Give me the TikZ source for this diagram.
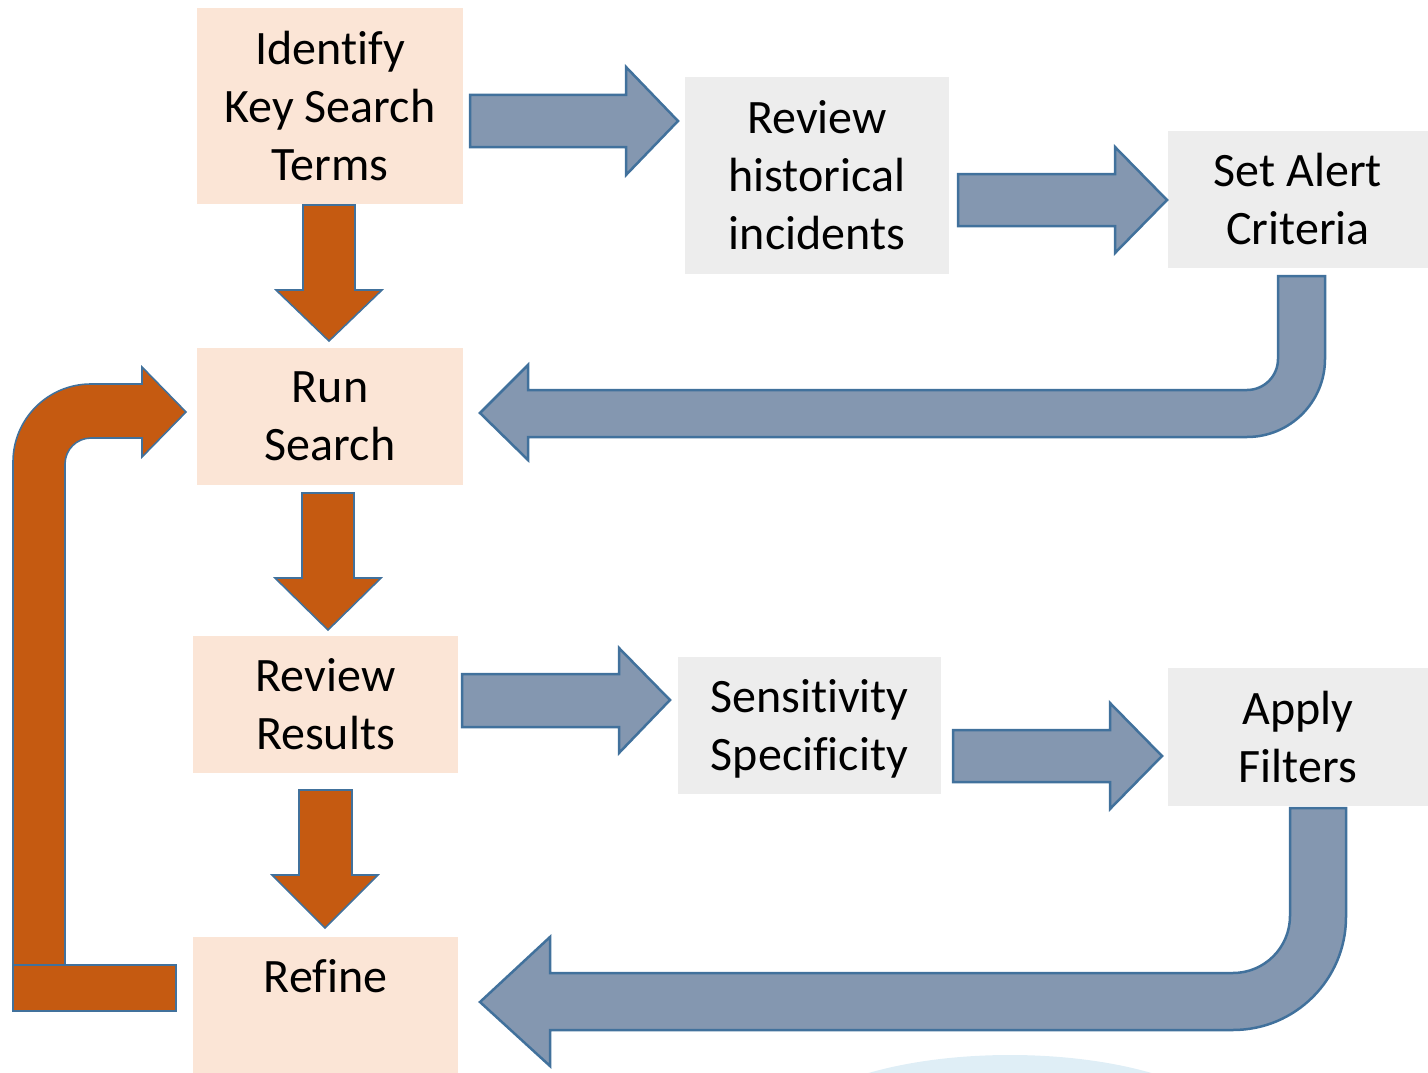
\documentclass[tikz,border=0pt]{standalone}
\usepackage{fontspec}
\setmainfont{Carlito}[RawFeature={-liga;-clig}]
\definecolor{boxorange}{HTML}{FBE5D6}
\definecolor{boxgrey}{HTML}{EDEDED}
\definecolor{arrowblue}{HTML}{8497B0}
\definecolor{edgeblue}{HTML}{41719C}
\definecolor{arroworange}{HTML}{C55A11}
\definecolor{skyblue}{HTML}{DFEEF6}
\tikzset{
  stepbox/.style={inner sep=0pt, align=center, font=\fontsize{48}{58}\selectfont},
  obox/.style={stepbox, fill=boxorange},
  gbox/.style={stepbox, fill=boxgrey},
  barrow/.style={fill=arrowblue, draw=edgeblue, line width=2.5pt, line join=miter},
  oarrow/.style={fill=arroworange, draw=edgeblue, line width=1.6pt, line join=miter}
}
\begin{document}
\begin{tikzpicture}[x=1pt, y=1pt, yscale=-1]
			\useasboundingbox (0,0) rectangle (1428,1073);
			\begin{scope}
			\clip (0,0) rectangle (1428,1073);
			\fill [skyblue] (1010,1140) ellipse [x radius=230pt, y radius=85pt];
			\end{scope}
			% boxes
			\node [obox, minimum width=266, minimum height=195] (ident) at (330,106) {Identify\\Key Search\\Terms};
			\node [gbox, minimum width=264, minimum height=197] (hist) at (817,175.5) {Review\\historical\\incidents};
			\node [gbox, minimum width=260, minimum height=137] (alert) at (1298,199.5) {Set Alert\\Criteria};
			\node [obox, minimum width=266, minimum height=137] (run) at (330,416.5) {Run\\Search};
			\node [obox, minimum width=265, minimum height=137] (results) at (325.5,704.5) {Review\\Results};
			\node [gbox, minimum width=263, minimum height=137] (sens) at (809.5,725.5) {};
			\node [stepbox] (senstext) at (809.5,729) {Sensitivity\\Specificity};
			\node [gbox, minimum width=260, minimum height=138] (filters) at (1298,737) {Apply\\Filters};
			\node [obox, minimum width=265, minimum height=136] (refine) at (325.5,1005) {Refine\\~};
			% blue block arrows
			\draw [barrow] (470,95) -- (626,95) -- (626,67) -- (678,121) -- (626,175) -- (626,147) -- (470,147) -- cycle;
			\draw [barrow] (958,174) -- (1115,174) -- (1115,147) -- (1167,200) -- (1115,253) -- (1115,226) -- (958,226) -- cycle;
			\draw [barrow] (462,674) -- (619,674) -- (619,648) -- (670,700) -- (619,753) -- (619,727) -- (462,727) -- cycle;
			\draw [barrow] (953,730) -- (1110,730) -- (1110,703) -- (1162,756) -- (1110,809) -- (1110,782) -- (953,782) -- cycle;
			\draw [barrow] (1278,276) -- (1325,276) -- (1325,359) arc (0:90:78pt) -- (528,437) -- (528,460) -- (480,413) -- (528,365) -- (528,390) -- (1247,390) arc (90:0:31pt) -- cycle;
			\draw [barrow] (1290,808) -- (1346,808) -- (1346,917) arc (0:90:113pt) -- (550,1030) -- (550,1066) -- (480,1002) -- (550,937) -- (550,973) -- (1233,973) arc (90:0:57pt) -- cycle;
			% orange block arrows
			\draw [oarrow] (303,205) -- (355,205) -- (355,290) -- (382,290) -- (329,341) -- (276,290) -- (303,290) -- cycle;
			\draw [oarrow] (302,493) -- (354,493) -- (354,578) -- (381,578) -- (328,630) -- (275,578) -- (302,578) -- cycle;
			\draw [oarrow] (299,790) -- (352,790) -- (352,875) -- (378,875) -- (325,928) -- (272,875) -- (299,875) -- cycle;
			\draw [oarrow] (13,965) -- (13,462) arc (180:270:78pt) -- (142,384) -- (142,367) -- (186,412) -- (142,457) -- (142,438) -- (91,438) arc (270:180:26pt) -- (65,965) -- cycle;
			\draw [oarrow] (13,965) rectangle (176,1011);
		\end{tikzpicture}
\end{document}
